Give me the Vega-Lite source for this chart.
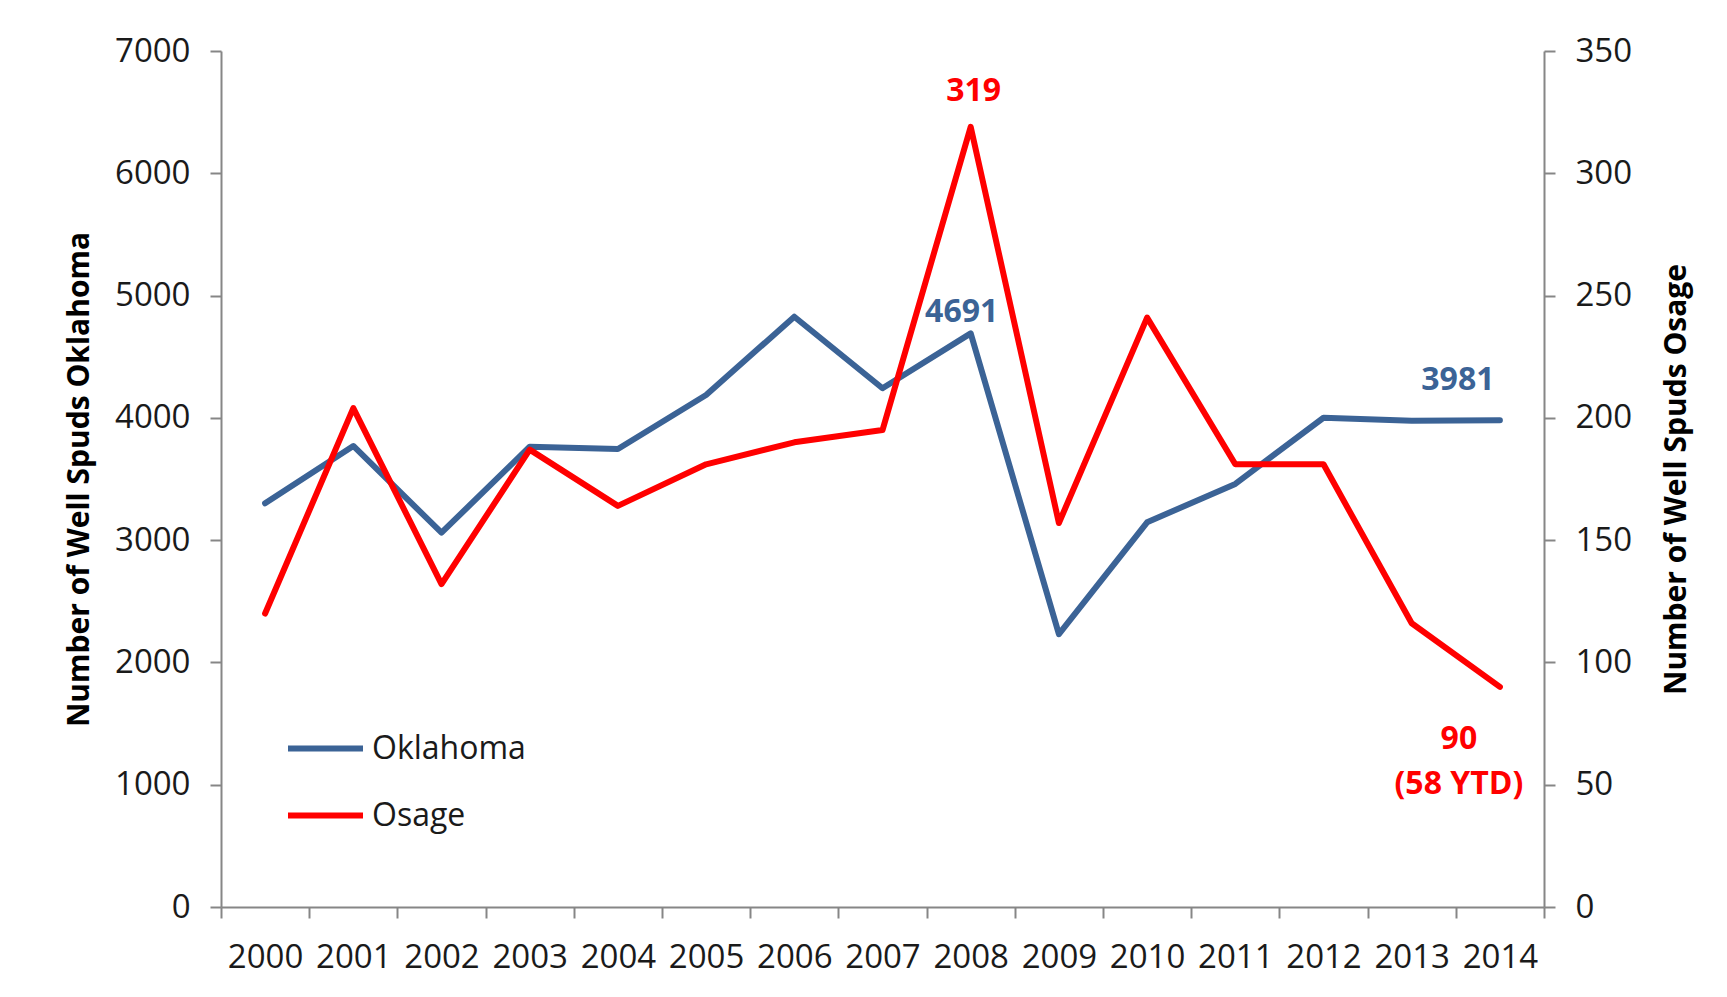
{
  "$schema": "https://vega.github.io/schema/vega-lite/v6.json",
  "autosize": {"type": "none"},
  "padding": {"left": 221, "top": 51, "right": 183, "bottom": 90},
  "width": 1323,
  "height": 856,
  "background": "white",
  "config": {
    "font": "Open Sans",
    "view": {"stroke": null},
    "axis": {
      "grid": false,
      "domainColor": "#868686",
      "tickColor": "#868686",
      "domainWidth": 2,
      "tickWidth": 2,
      "tickSize": 11,
      "labelFont": "Open Sans",
      "labelFontSize": 33,
      "labelColor": "#1a1a1a",
      "titleFont": "Open Sans",
      "titleFontSize": 30,
      "titleFontWeight": "bold",
      "titleColor": "#000000"
    },
    "line": {"strokeWidth": 6, "strokeCap": "round", "strokeJoin": "round"},
    "text": {"font": "Open Sans", "fontWeight": "bold", "fontSize": 32, "lineBreak": "\n", "lineHeight": 45}
  },
  "data": {
    "values": [
      {"year": 2000, "series": "Oklahoma", "value": 3301},
      {"year": 2001, "series": "Oklahoma", "value": 3770},
      {"year": 2002, "series": "Oklahoma", "value": 3061},
      {"year": 2003, "series": "Oklahoma", "value": 3764},
      {"year": 2004, "series": "Oklahoma", "value": 3745},
      {"year": 2005, "series": "Oklahoma", "value": 4187},
      {"year": 2006, "series": "Oklahoma", "value": 4827},
      {"year": 2007, "series": "Oklahoma", "value": 4242},
      {"year": 2008, "series": "Oklahoma", "value": 4691, "label": "4691"},
      {"year": 2009, "series": "Oklahoma", "value": 2232},
      {"year": 2010, "series": "Oklahoma", "value": 3146},
      {"year": 2011, "series": "Oklahoma", "value": 3460},
      {"year": 2012, "series": "Oklahoma", "value": 4001},
      {"year": 2013, "series": "Oklahoma", "value": 3976},
      {"year": 2014, "series": "Oklahoma", "value": 3981, "label": "3981"},
      {"year": 2000, "series": "Osage", "value": 120},
      {"year": 2001, "series": "Osage", "value": 204},
      {"year": 2002, "series": "Osage", "value": 132},
      {"year": 2003, "series": "Osage", "value": 187},
      {"year": 2004, "series": "Osage", "value": 164},
      {"year": 2005, "series": "Osage", "value": 181},
      {"year": 2006, "series": "Osage", "value": 190},
      {"year": 2007, "series": "Osage", "value": 195},
      {"year": 2008, "series": "Osage", "value": 319, "label": "319"},
      {"year": 2009, "series": "Osage", "value": 157},
      {"year": 2010, "series": "Osage", "value": 241},
      {"year": 2011, "series": "Osage", "value": 181},
      {"year": 2012, "series": "Osage", "value": 181},
      {"year": 2013, "series": "Osage", "value": 116},
      {"year": 2014, "series": "Osage", "value": 90, "label": "90\n(58 YTD)"}
    ]
  },
  "encoding": {
    "x": {
      "field": "year",
      "type": "ordinal",
      "bandPosition": 0.5,
      "scale": {"type": "band", "paddingInner": 0, "paddingOuter": 0},
      "axis": {"title": null, "labelAngle": 0, "tickBand": "extent", "labelPadding": 23}
    }
  },
  "layer": [
    {
      "encoding": {
        "y": {
          "field": "value",
          "type": "quantitative",
          "scale": {"domain": [0, 7000], "nice": false},
          "axis": {
            "orient": "left",
            "title": "Number of Well Spuds Oklahoma",
            "values": [0, 1000, 2000, 3000, 4000, 5000, 6000, 7000],
            "format": "d",
            "labelPadding": 20,
            "titlePadding": 20
          }
        }
      },
      "layer": [
        {
          "transform": [{"filter": "datum.series === 'Oklahoma'"}],
          "mark": "line",
          "encoding": {
            "color": {
              "field": "series",
              "type": "nominal",
              "scale": {"domain": ["Oklahoma", "Osage"], "range": ["#3B6396", "#FF0000"]},
              "legend": {
                "title": null,
                "orient": "none",
                "legendX": 64,
                "legendY": 657,
                "padding": 0,
                "symbolType": "stroke",
                "symbolSize": 5625,
                "symbolStrokeWidth": 6,
                "labelFont": "Open Sans",
                "labelFontSize": 32,
                "labelColor": "#1a1a1a",
                "labelOffset": 6,
                "rowPadding": 10
              }
            }
          }
        },
        {
          "transform": [{"filter": "datum.series === 'Oklahoma' && datum.year === 2008"}],
          "mark": {"type": "text", "color": "#3B6396", "dx": -9, "dy": -21, "baseline": "middle"},
          "encoding": {"text": {"field": "label", "type": "nominal"}}
        },
        {
          "transform": [{"filter": "datum.series === 'Oklahoma' && datum.year === 2014"}],
          "mark": {"type": "text", "color": "#3B6396", "dx": -42, "dy": -40, "baseline": "middle"},
          "encoding": {"text": {"field": "label", "type": "nominal"}}
        }
      ]
    },
    {
      "encoding": {
        "y": {
          "field": "value",
          "type": "quantitative",
          "scale": {"domain": [0, 350], "nice": false},
          "axis": {
            "orient": "right",
            "title": "Number of Well Spuds Osage",
            "values": [0, 50, 100, 150, 200, 250, 300, 350],
            "format": "d",
            "labelPadding": 20,
            "titlePadding": 30,
            "titleAngle": -90,
            "titleBaseline": "top"
          }
        }
      },
      "layer": [
        {
          "transform": [{"filter": "datum.series === 'Osage'"}],
          "mark": "line",
          "encoding": {
            "color": {"field": "series", "type": "nominal"}
          }
        },
        {
          "transform": [{"filter": "datum.series === 'Osage' && datum.year === 2008"}],
          "mark": {"type": "text", "color": "#FF0000", "dx": 3, "dy": -36, "baseline": "middle"},
          "encoding": {"text": {"field": "label", "type": "nominal"}}
        },
        {
          "transform": [{"filter": "datum.series === 'Osage' && datum.year === 2014"}],
          "mark": {"type": "text", "color": "#FF0000", "dx": -41, "dy": 52, "baseline": "middle"},
          "encoding": {"text": {"field": "label", "type": "nominal"}}
        }
      ]
    }
  ],
  "resolve": {"scale": {"y": "independent"}}
}
